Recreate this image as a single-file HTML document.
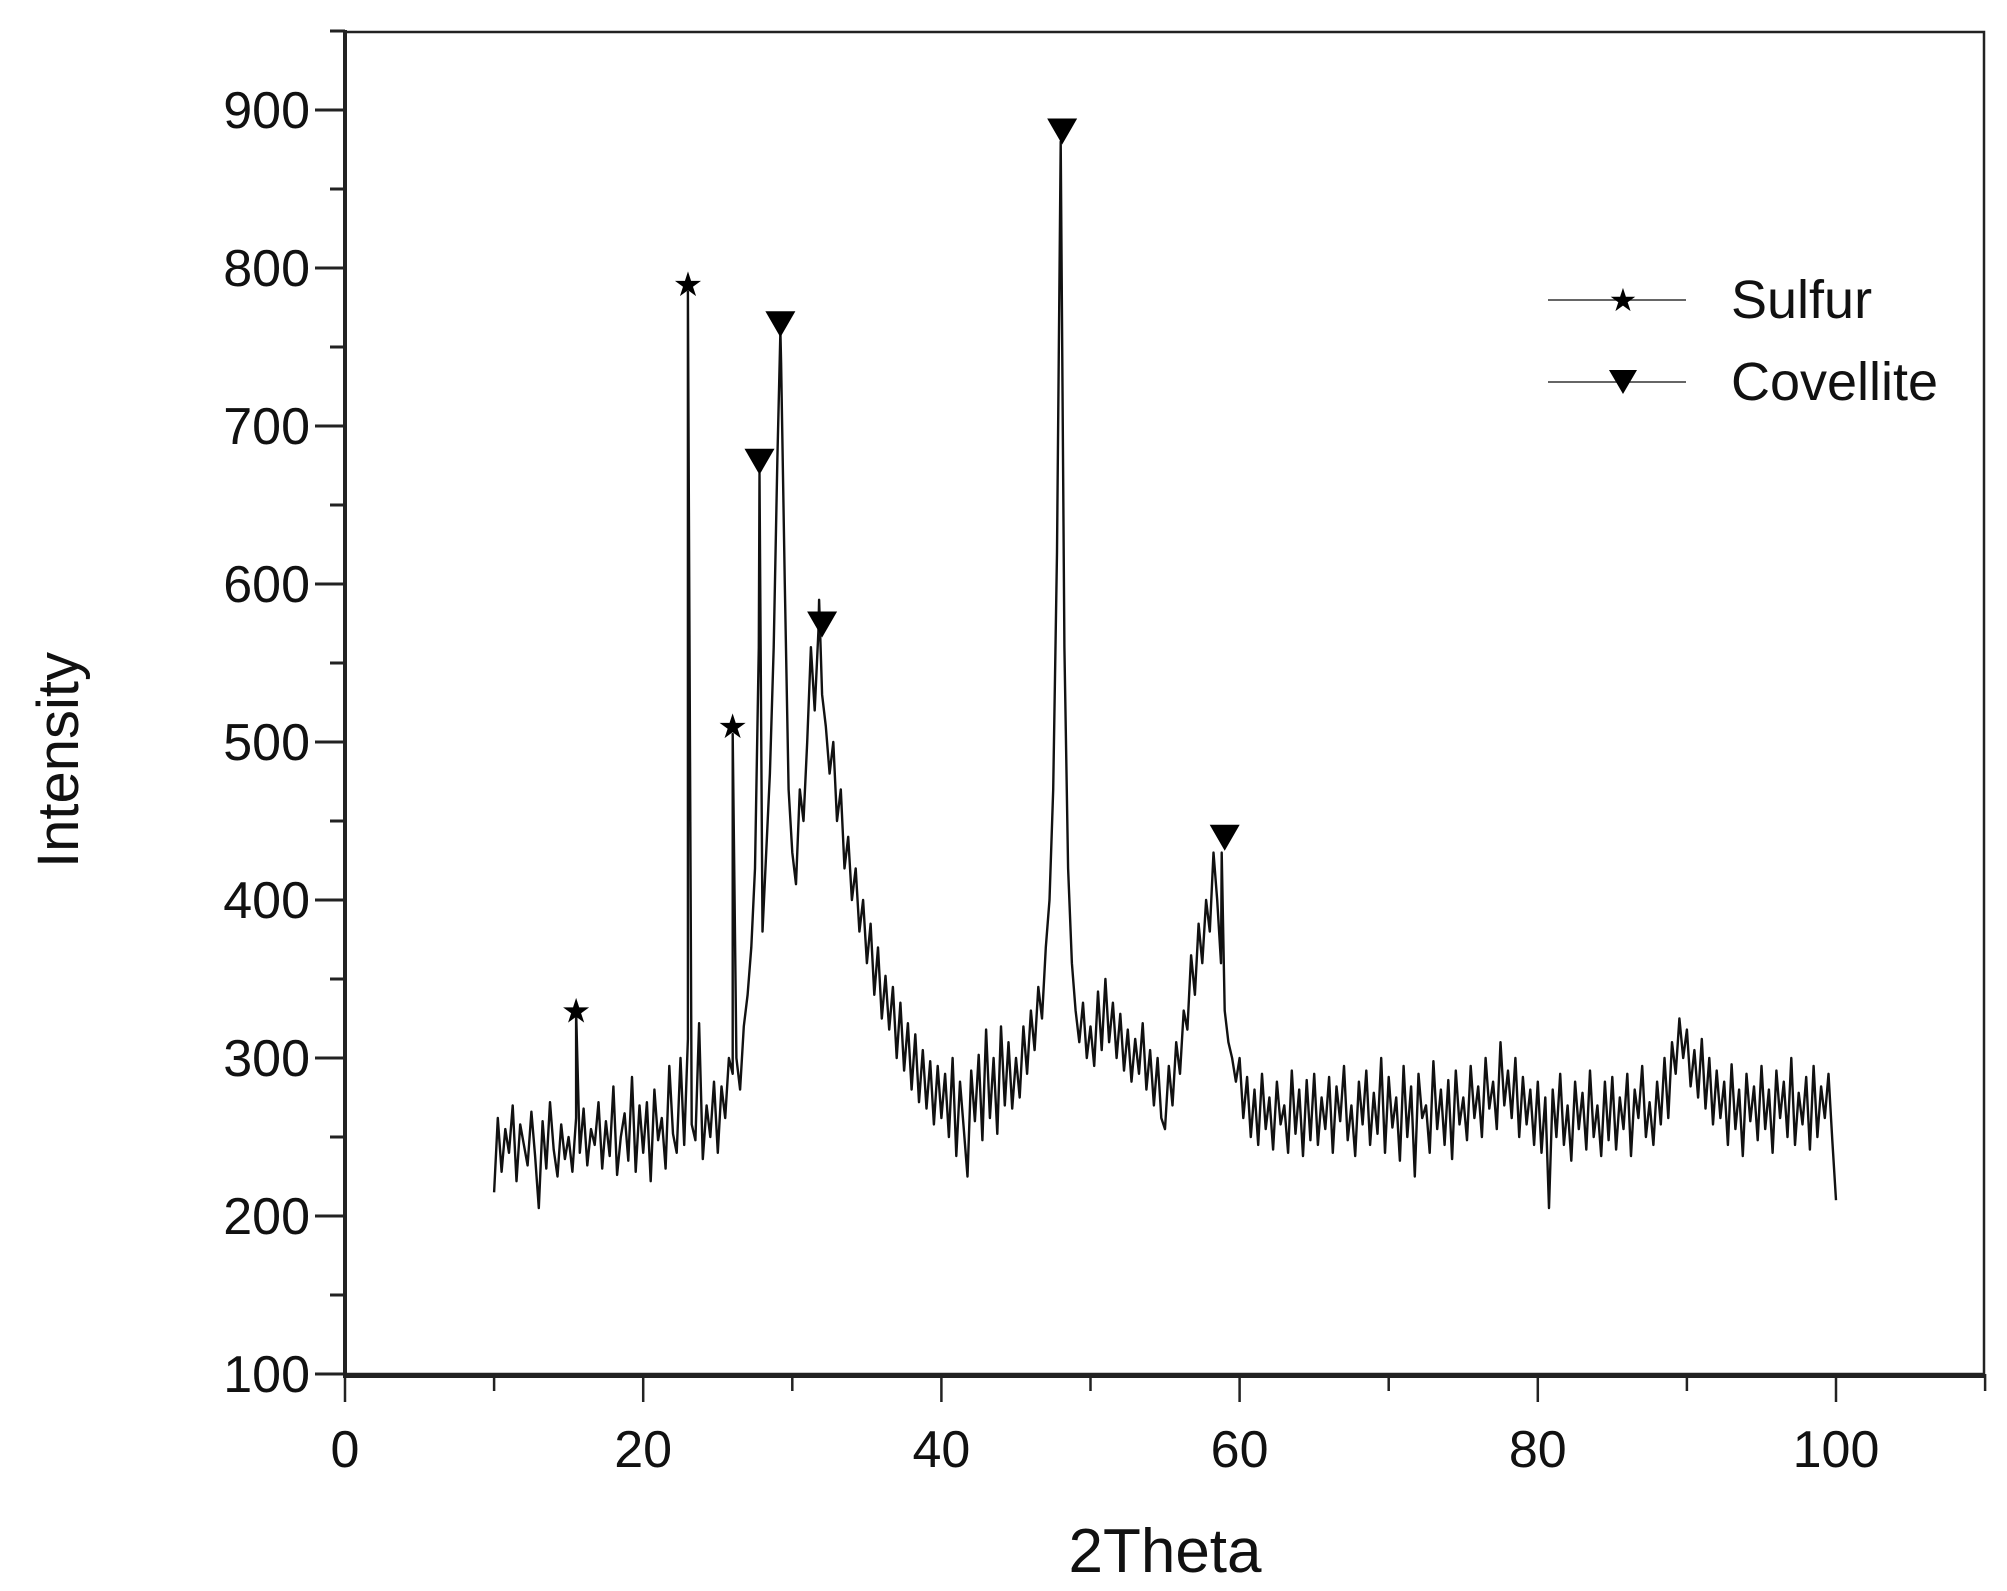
<!DOCTYPE html>
<html><head><meta charset="utf-8"><style>
html,body{margin:0;padding:0;background:#fff}
svg{display:block;font-family:"Liberation Sans",Arial,sans-serif}
</style></head><body>
<svg id="chart" width="2007" height="1591" viewBox="0 0 2007 1591" xmlns="http://www.w3.org/2000/svg">
<rect width="2007" height="1591" fill="#fff"/>
<g id="axes"></g>
<path id="series" fill="none" stroke="#111" stroke-width="2.4" stroke-linejoin="round"/>
<g id="markers"></g>
<g id="legend">
  <g>
    <line x1="1548" y1="300" x2="1686" y2="300" stroke="#333" stroke-width="1.5"/>
    <text x="1623" y="311" font-size="32" text-anchor="middle">★</text>
    <text x="1731" y="318" font-size="54" fill="#111">Sulfur</text>
  </g>
  <g>
    <line x1="1548" y1="382" x2="1686" y2="382" stroke="#333" stroke-width="1.5"/>
    <path d="M1609 370 L1637 370 L1623 394 Z" fill="#000"/>
    <text x="1731" y="400" font-size="54" fill="#111">Covellite</text>
  </g>
</g>
<text transform="translate(78,760) rotate(-90)" font-size="58" text-anchor="middle" fill="#111">Intensity</text>
<text x="1165" y="1572" font-size="62" text-anchor="middle" fill="#111">2Theta</text>
</svg>
<script>
const xTicks = [0,20,40,60,80,100];
const yTicks = [100,200,300,400,500,600,700,800,900];
const gridStart = 10;
const gridStep = 0.25;
const intensity = [
215,262,228,255,240,270,222,258,245,232,266,238,205,260,230,272,242,225,258,236,
250,228,262,240,268,232,255,245,272,230,260,238,282,226,250,265,235,288,228,270,
240,272,222,280,248,262,230,295,252,240,300,245,312,258,248,322,236,270,250,285,
240,282,262,300,290,300,280,320,340,370,420,560,380,430,480,560,680,740,600,470,
430,410,470,450,500,560,520,570,530,510,480,500,450,470,420,440,400,420,380,400,
360,385,340,370,325,352,318,345,300,335,292,322,280,315,272,305,268,298,258,295,
262,290,250,300,238,285,255,225,292,260,302,248,318,262,300,252,320,270,310,268,
300,275,320,290,330,305,345,325,370,400,470,620,880,560,420,360,330,310,335,300,
320,295,342,305,350,310,335,300,328,292,318,285,312,290,322,280,305,270,300,262,
255,295,270,310,290,330,318,365,340,385,360,400,380,430,400,360,330,310,300,285,
300,262,288,250,280,245,290,255,275,242,285,258,270,240,292,252,280,238,286,248,
290,245,275,255,288,240,282,260,295,248,270,238,285,258,292,245,278,252,300,240,
288,256,275,235,295,250,282,225,290,262,270,240,298,255,280,245,286,236,292,258,
275,248,295,262,282,250,300,268,285,255,310,270,292,262,300,250,288,258,280,245,
285,240,275,205,280,250,290,245,270,235,285,255,278,242,292,250,270,238,285,248,
288,242,275,255,290,238,280,262,295,250,272,245,285,258,300,262,310,290,325,300,
318,282,305,275,312,268,300,258,292,262,285,245,296,255,280,238,290,260,282,248,
295,255,280,240,292,262,285,250,300,245,278,258,288,242,295,250,282,262,290,248,
210];
const peakX = [15.5,23,26,27.8,29.2,31.8,58.8];
const peakY = [330,785,505,670,760,590,430];
const sulfurPeaks = [[15.5,330],[23,790],[26,510]];
const covellitePeaks = [[27.8,678],[29.2,765],[32,575],[48.1,887],[59,440]];

const X0=345, XS=14.91, Y0=1374, YS=1.58;
const sx = v => X0 + v*XS;
const sy = v => Y0 - (v-100)*YS;
const NS='http://www.w3.org/2000/svg';
function mk(tag, attrs, parent){const e=document.createElementNS(NS,tag);for(const k in attrs)e.setAttribute(k,attrs[k]);parent.appendChild(e);return e;}
const axes=document.getElementById('axes');
const frame=mk('rect',{x:345,y:32,width:1639,height:1342,fill:'none',stroke:'#222','stroke-width':2.5},axes);


const la=mk('path',{d:'M345 30 L345 1376 L1986 1376',fill:'none',stroke:'#222','stroke-width':4},axes);


for(let v=100; v<=950; v+=50){
  const major = v%100===0;
  const t=mk('line',{x1:X0-(major?30:15),x2:X0,y1:sy(v),y2:sy(v),stroke:'#222','stroke-width':3},axes);
  
  
}
yTicks.forEach(v=>{
  const t=mk('text',{x:310,y:sy(v)+18,'font-size':52,'text-anchor':'end',fill:'#111'},axes);
  t.textContent=v;
  
  
});
for(let v=0; v<=110; v+=10){
  const major = v%20===0;
  const t=mk('line',{x1:sx(v),x2:sx(v),y1:Y0,y2:Y0+(major?28:17),stroke:'#222','stroke-width':2.5},axes);
  
  
}
xTicks.forEach(v=>{
  const t=mk('text',{x:sx(v),y:1467,'font-size':52,'text-anchor':'middle',fill:'#111'},axes);
  t.textContent=v;
  
  
});
const pts = intensity.map((y,i)=>[gridStart+i*gridStep,y]);
peakX.forEach((x,i)=>pts.push([x,peakY[i]]));
pts.sort((a,b)=>a[0]-b[0]);
let d='';
pts.forEach((p,i)=>{d+=(i?'L':'M')+sx(p[0]).toFixed(1)+' '+sy(p[1]).toFixed(1);});
document.getElementById('series').setAttribute('d',d);
const mg=document.getElementById('markers');
sulfurPeaks.forEach(p=>{
  const t=mk('text',{x:sx(p[0]),y:sy(p[1])+12,'font-size':34,'text-anchor':'middle',fill:'#000'},mg);
  t.textContent='★';
  
  
});
covellitePeaks.forEach(p=>{
  const x=sx(p[0]), y=sy(p[1]);
  const t=mk('path',{d:`M${x-15} ${y-12} L${x+15} ${y-12} L${x} ${y+14} Z`,fill:'#000'},mg);
  
  
});
</script>
</body></html>
